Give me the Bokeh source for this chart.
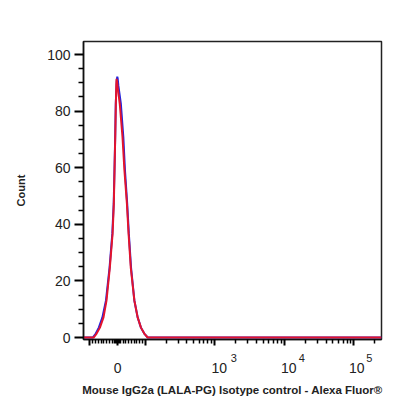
import math
from bokeh.plotting import figure
from bokeh.models import Range1d, FixedTicker, CustomJSTickFormatter, LinearAxis
from bokeh.embed import file_html
from bokeh.resources import INLINE

# ---------------- data ----------------
# fluorescence intensity (linear units) and event counts
red_values = [-124, -87, -76, -64, -51, -40, -28, -18, -13.5, -11, -8.4, -6.2, -4.5, -3.6, -2, 1,
              8, 18, 25, 34, 40, 48, 61, 73, 85, 97, 109, 250000]
red_counts = [0, 0, 1.4, 3.5, 7.1, 13.1, 24.7, 36.7, 47.3, 59, 70.8, 82.6, 89.5, 91.4, 90.6, 88,
              82.6, 70.8, 59, 47.3, 36.7, 24.7, 13.1, 7.1, 3.5, 1.4, 0, 0]

blue_values = [-124, -90, -79, -68, -55, -42, -29, -19, -14, -11.2, -8.6, -6.5, -3, -1, 0.5, 3,
               12, 21, 27, 35, 41, 49, 61, 73, 85, 97, 109, 250000]
blue_counts = [0, 0, 1.4, 3.5, 7.1, 13.1, 24.7, 36.7, 47.3, 59, 70.8, 82.6, 90.5, 92.2, 91.5, 89,
               82.6, 70.8, 59, 47.3, 36.7, 24.7, 13.1, 7.1, 3.5, 1.4, 0, 0]

x_limits = [-124, 250000]
y_limits = [-0.7, 104.6]

x_major_values = [-100, 0, 100, 1000, 10000, 100000]
x_minor_values = ([-90, -80, -70, -60, -50, -40, -30, -20, -10, -6, -3, 3, 6,
                   10, 20, 30, 40, 50, 60, 70, 80, 90]
                  + [m * 10 ** k for k in (2, 3, 4) for m in range(2, 10)] + [200000])
x_label_values = [0, 1000, 10000, 100000]
x_label_bases = ["0", "10", "10", "10"]
x_label_exponents = ["3", "4", "5"]

y_major = [0, 20, 40, 60, 80, 100]
y_minor = [v for v in range(0, 105, 5) if v % 20 != 0]

x_title = "Mouse IgG2a (LALA-PG) Isotype control - Alexa Fluor®"
y_title = "Count"

# ------------- biexponential-like display transform -------------
LIN = 0.396        # display units taken by 0..100 (linear region)
PX_PER_UNIT = 69.5  # pixels per decade on screen


def disp(v):
    if abs(v) <= 100:
        return v / 100.0 * LIN
    s = 1 if v > 0 else -1
    return s * (LIN + math.log10(abs(v) / 100.0))


FONT = "Liberation Sans"
INK = "#222222"

p = figure(width=416, height=416, output_backend="svg", toolbar_location=None,
           x_range=Range1d(disp(x_limits[0]), disp(x_limits[1])),
           y_range=Range1d(y_limits[0], y_limits[1]),
           min_border_left=83, min_border_right=35, min_border_top=41, min_border_bottom=77)

p.xgrid.visible = False
p.ygrid.visible = False
p.background_fill_color = "white"
p.border_fill_color = "white"
p.outline_line_color = "#222222"
p.outline_line_width = 1.5

p.line([disp(v) for v in blue_values], blue_counts, line_color="#2323dc", line_width=2)
p.line([disp(v) for v in red_values], red_counts, line_color="#e3142d", line_width=2)

# x axis A: line and ticks
xa = p.xaxis[0]
xa.ticker = FixedTicker(ticks=[disp(v) for v in x_major_values],
                        minor_ticks=[disp(v) for v in x_minor_values])
xa.formatter = CustomJSTickFormatter(code="return '';")
xa.axis_line_color = "#111111"
xa.axis_line_width = 1.5
xa.major_tick_line_color = "#000000"
xa.major_tick_line_width = 2
xa.major_tick_out = 6
xa.major_tick_in = 0
xa.minor_tick_line_color = "#000000"
xa.minor_tick_line_width = 1.5
xa.minor_tick_out = 4
xa.minor_tick_in = 0
xa.major_label_standoff = 0
xa.major_label_text_font_size = "1px"

# x axis B: "0" / "10" labels (slightly right of the decade ticks, as in the original)
base_shift = [0.0, 4.5, 4.5, 3.0]
xb = LinearAxis(ticker=FixedTicker(ticks=[disp(v) + s / PX_PER_UNIT
                                          for v, s in zip(x_label_values, base_shift)],
                                   minor_ticks=[]),
                formatter=CustomJSTickFormatter(args=dict(labels=x_label_bases),
                                                code="return labels[index];"))
xb.axis_line_color = None
xb.major_tick_line_color = None
xb.minor_tick_line_color = None
xb.major_tick_out = 0
xb.major_tick_in = 0
xb.major_label_standoff = 17
xb.major_label_text_font = FONT
xb.major_label_text_font_size = "14px"
xb.major_label_text_color = INK
p.add_layout(xb, "below")

# x axis C: exponents, pulled up beside the "10"s, plus the axis title
exp_shift = [19.0, 17.5, 15.5]
xc = LinearAxis(ticker=FixedTicker(ticks=[disp(v) + s / PX_PER_UNIT
                                          for v, s in zip(x_label_values[1:], exp_shift)],
                                   minor_ticks=[]),
                formatter=CustomJSTickFormatter(args=dict(labels=x_label_exponents),
                                                code="return labels[index];"))
xc.axis_line_color = None
xc.major_tick_line_color = None
xc.minor_tick_line_color = None
xc.major_tick_out = 0
xc.major_tick_in = 0
xc.major_label_standoff = -22
xc.major_label_text_font = FONT
xc.major_label_text_font_size = "11px"
xc.major_label_text_color = INK
xc.axis_label = x_title
xc.axis_label_text_font = FONT
xc.axis_label_text_font_style = "bold"
xc.axis_label_text_font_size = "11.5px"
xc.axis_label_text_color = INK
xc.axis_label_standoff = 19
p.add_layout(xc, "below")

# y axis
ya = p.yaxis[0]
ya.ticker = FixedTicker(ticks=y_major, minor_ticks=y_minor)
ya.axis_line_color = "#111111"
ya.axis_line_width = 1.5
ya.major_tick_line_color = "#000000"
ya.major_tick_line_width = 2
ya.major_tick_out = 9
ya.major_tick_in = 0
ya.minor_tick_line_color = "#000000"
ya.minor_tick_line_width = 1.5
ya.minor_tick_out = 5
ya.minor_tick_in = 0
ya.major_label_standoff = 4
ya.major_label_text_font = FONT
ya.major_label_text_font_size = "14px"
ya.major_label_text_color = INK
ya.axis_label = y_title
ya.axis_label_text_font = FONT
ya.axis_label_text_font_style = "bold"
ya.axis_label_text_font_size = "11px"
ya.axis_label_text_color = INK
ya.axis_label_standoff = 17

open("out.html", "w").write(file_html(p, INLINE))
